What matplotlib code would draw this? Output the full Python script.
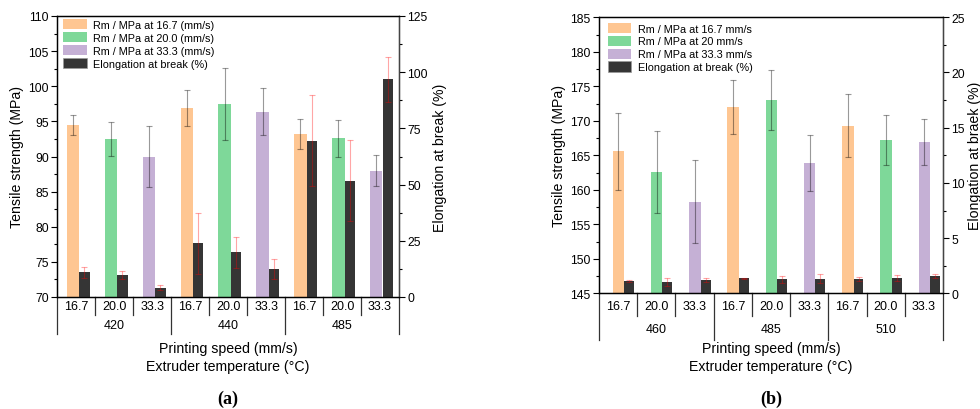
import matplotlib
matplotlib.use("Agg")
import matplotlib.pyplot as plt
import matplotlib.transforms as mtransforms
from matplotlib.patches import Patch
import numpy as np

plt.rcParams['font.family'] = ['Liberation Sans', 'DejaVu Sans']

# data
speeds = ['16.7', '20.0', '33.3']
temps_a = ['420', '440', '485']
temps_b = ['460', '485', '510']

rm_a = [94.5, 92.45, 90.0, 96.9, 97.5, 96.4, 93.2, 92.6, 88.0]
rm_a_err = [1.4, 2.4, 4.4, 2.5, 5.1, 3.4, 2.1, 2.6, 2.2]
elong_a = [10.9, 9.65, 4.1, 23.8, 19.8, 12.3, 69.5, 51.7, 96.8]
elong_a_err = [2.3, 1.7, 1.1, 13.6, 7.1, 4.5, 20.2, 18.0, 10.0]

rm_b = [165.6, 162.6, 158.3, 172.0, 173.0, 163.9, 169.3, 167.2, 166.9]
rm_b_err = [5.6, 5.9, 6.0, 3.9, 4.3, 4.1, 4.6, 3.6, 3.3]
elong_b = [1.11, 1.02, 1.18, 1.36, 1.27, 1.33, 1.33, 1.36, 1.57]
elong_b_err = [0.08, 0.35, 0.18, 0.07, 0.3, 0.4, 0.18, 0.27, 0.15]

labels_a = ['Rm / MPa at 16.7 (mm/s)', 'Rm / MPa at 20.0 (mm/s)',
            'Rm / MPa at 33.3 (mm/s)', 'Elongation at break (%)']
labels_b = ['Rm / MPa at 16.7 mm/s', 'Rm / MPa at 20 mm/s',
            'Rm / MPa at 33.3 mm/s', 'Elongation at break (%)']
ylabel2_a = 'Elongation at break (%)'
ylabel2_b = 'Elongation at braek (%)'

colors = ['#fec692', '#7ed899', '#c5b0d5']
dark = '#353535'

W, H = 980, 410


def px_axes(left, right, top, bottom):
	return [left / W, 1 - bottom / H, (right - left) / W, (bottom - top) / H]


def draw_panel(ax, rm, rm_err, el, el_err, temps, labels, ylabel2, ylim, ylim2,
               yticks, yticks2, minor2, offs, cat_y, grp_y, short_y, long_y,
               leg_anchor, tag, pad2):
	n = len(rm)
	x = np.arange(n)
	c_off, c_w, b_off, b_w = offs

	ax2 = ax.twinx()
	handles = []
	for k in range(3):
		idx = x[k::3]
		ax.bar(idx + c_off, np.array(rm)[k::3], c_w, color=colors[k],
		       yerr=np.array(rm_err)[k::3],
		       error_kw=dict(ecolor=(0, 0, 0, 0.4), elinewidth=0.8,
		                     capsize=2.5, capthick=0.8))
		handles.append(Patch(facecolor=colors[k], edgecolor='none'))
	ax2.bar(x + b_off, el, b_w, color=dark, yerr=el_err,
	        error_kw=dict(ecolor=(1, 0, 0, 0.35), elinewidth=0.8,
	                      capsize=2.5, capthick=0.8))
	handles.append(Patch(facecolor=dark, edgecolor='#999999', linewidth=0.5))

	ax.set_xlim(-0.5, n - 0.5)
	ax.set_ylim(*ylim)
	ax2.set_ylim(*ylim2)
	ax.set_xticks([])
	ax.set_yticks(yticks)
	ax.set_yticks(np.arange(yticks[0], yticks[-1], (yticks[1] - yticks[0]) / 2), minor=True)
	ax2.set_yticks(yticks2)
	ax2.set_yticks(minor2, minor=True)
	for a in (ax, ax2):
		a.tick_params(which='major', direction='out', length=4, width=0.8, labelsize=8.8, pad=2)
		a.tick_params(which='minor', direction='out', length=2.2, width=0.8)
		for s in a.spines.values():
			s.set_linewidth(0.9)
	ax2.spines['right'].set_color('#444444')

	ax.set_ylabel('Tensile strength (MPa)', fontsize=10.2, labelpad=3)
	ax2.set_ylabel(ylabel2, fontsize=10.2, labelpad=pad2)

	# category and group labels under the axis
	tr = mtransforms.blended_transform_factory(ax.transData, ax.transAxes)
	for i in range(n):
		ax.text(i, cat_y, speeds[i % 3], transform=tr, ha='center', va='center', fontsize=9)
	for g in range(3):
		ax.text(3 * g + 1, grp_y, temps[g], transform=tr, ha='center', va='center', fontsize=9)
	for i in range(n - 1):
		if (i + 1) % 3 == 0:
			continue
		ax.plot([i + 0.5, i + 0.5], [0, short_y], transform=tr, color='#333333',
		        lw=0.9, clip_on=False)
	for xg in [-0.5, 2.5, 5.5, 8.5]:
		ax.plot([xg, xg], [0, long_y], transform=tr, color='#333333',
		        lw=0.9, clip_on=False)

	ax2.legend(handles, labels, loc='upper left', bbox_to_anchor=leg_anchor,
	           frameon=False, fontsize=7.8, handlelength=2.2, handleheight=1.05,
	           labelspacing=0.2, handletextpad=0.6, borderpad=0, borderaxespad=0)

	pos = ax.get_position()
	xc = (pos.x0 + pos.x1) / 2
	fig.text(xc, 1 - 349 / H, 'Printing speed (mm/s)', ha='center', va='center', fontsize=10.2)
	fig.text(xc, 1 - 367 / H, 'Extruder temperature (°C)', ha='center', va='center', fontsize=10.2)
	fig.text(xc, 1 - 399 / H, tag, ha='center', va='center', fontsize=13,
	         family=['Liberation Serif', 'DejaVu Serif'], fontweight='bold')


fig = plt.figure(figsize=(W / 100, H / 100), dpi=100)
ax_a = fig.add_axes(px_axes(57.3, 399, 17, 298))
ax_b = fig.add_axes(px_axes(599, 943, 18.3, 294.3))

draw_panel(ax_a, rm_a, rm_a_err, elong_a, elong_a_err, temps_a, labels_a, ylabel2_a,
           (70, 110), (0, 125), np.arange(70, 111, 5), np.arange(0, 126, 25),
           np.arange(12.5, 125, 25), (-0.095, 0.32, 0.21, 0.28),
           -0.032, -0.1, -0.064, -0.132, (0.017, 0.988), '(a)', 4)
draw_panel(ax_b, rm_b, rm_b_err, elong_b, elong_b_err, temps_b, labels_b, ylabel2_b,
           (145, 185), (0, 25), np.arange(145, 186, 5), np.arange(0, 26, 5),
           np.arange(2.5, 25, 5), (0.01, 0.30, 0.29, 0.26),
           -0.045, -0.129, -0.081, -0.169, (0.025, 0.98), '(b)', 2)

fig.savefig('out.png', dpi=100)
